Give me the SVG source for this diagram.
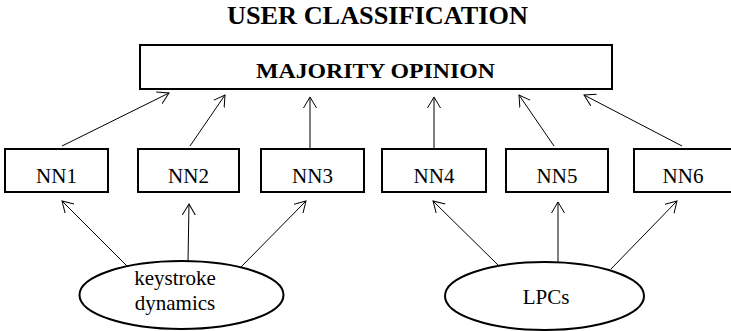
<svg xmlns="http://www.w3.org/2000/svg" width="731" height="331" viewBox="0 0 731 331">
<style>
.box{fill:#fff;stroke:#000;stroke-width:2}
.t{font-family:'Liberation Serif','Times New Roman',serif;fill:#000;stroke:none;text-anchor:middle}
.b{font-weight:bold}
.n{font-size:21px}
.c{stroke:#000;stroke-width:1;fill:none;marker-end:url(#ah)}
</style>
<defs>
<marker id="ah" markerUnits="userSpaceOnUse" markerWidth="12" markerHeight="14" viewBox="0 0 12 14" refX="11" refY="7" orient="auto">
<path d="M0,0.5 L11,7 L0,13.5" fill="none" stroke="#000" stroke-width="1"/>
</marker>
</defs>
<rect width="731" height="331" fill="#fff"/>
<text class="t b" x="377.5" y="24" font-size="25" textLength="301" lengthAdjust="spacingAndGlyphs">USER CLASSIFICATION</text>
<g id="majority">
<rect class="box" x="140" y="45" width="472" height="44"/>
<text class="t b" x="375.5" y="78" font-size="22" textLength="239" lengthAdjust="spacingAndGlyphs">MAJORITY OPINION</text>
</g>
<g id="nn1"><rect class="box" x="5" y="149" width="103" height="43"/><text class="t n" x="56.5" y="183">NN1</text></g>
<g id="nn2"><rect class="box" x="138" y="149" width="101" height="43"/><text class="t n" x="188.5" y="183">NN2</text></g>
<g id="nn3"><rect class="box" x="261" y="149" width="103" height="43"/><text class="t n" x="312.5" y="183">NN3</text></g>
<g id="nn4"><rect class="box" x="382" y="149" width="104" height="43"/><text class="t n" x="434" y="183">NN4</text></g>
<g id="nn5"><rect class="box" x="506" y="149" width="102" height="43"/><text class="t n" x="557" y="183">NN5</text></g>
<g id="nn6"><rect class="box" x="634" y="149" width="102" height="43"/><text class="t n" x="683" y="183">NN6</text></g>
<g id="keystroke">
<ellipse class="box" cx="181.5" cy="295" rx="102" ry="34"/>
<text class="t n" x="175" y="285">keystroke</text>
<text class="t n" x="175" y="310">dynamics</text>
</g>
<g id="lpcs">
<ellipse class="box" cx="544.5" cy="296" rx="99.5" ry="34"/>
<text class="t n" x="546" y="304">LPCs</text>
</g>
<g id="connectors">
<line class="c" x1="62" y1="146" x2="169" y2="93"/>
<line class="c" x1="190" y1="146" x2="225" y2="95"/>
<line class="c" x1="310" y1="148" x2="310" y2="97"/>
<line class="c" x1="434" y1="148" x2="434" y2="97"/>
<line class="c" x1="554" y1="146" x2="519" y2="95"/>
<line class="c" x1="682" y1="146" x2="584" y2="95"/>
<line class="c" x1="128" y1="267" x2="62" y2="201"/>
<line class="c" x1="188" y1="262" x2="189" y2="204"/>
<line class="c" x1="241" y1="267" x2="306" y2="201"/>
<line class="c" x1="498" y1="265" x2="433" y2="201"/>
<line class="c" x1="558" y1="262" x2="558" y2="202"/>
<line class="c" x1="611" y1="269" x2="677" y2="201"/>
</g>
</svg>
